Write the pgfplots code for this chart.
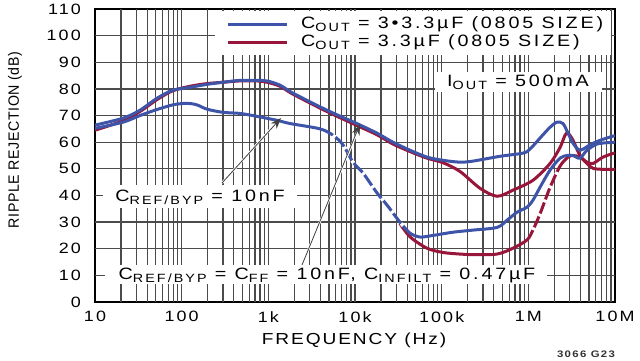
\documentclass[border=0pt]{standalone}
\usepackage{pgfplots}
\pgfplotsset{compat=1.18}
\usetikzlibrary{arrows.meta}
\usepackage{fontspec}
\setmainfont{Liberation Sans}
\newfontfamily\wide[FakeStretch=1.2,LetterSpace=17]{Liberation Sans}
\newfontfamily\xlab[FakeStretch=1.2,LetterSpace=12]{Liberation Sans}
\newfontfamily\tickfam[FakeStretch=1.2,LetterSpace=14]{Liberation Sans}
\newfontfamily\narrow[FakeStretch=0.95,LetterSpace=4]{Liberation Sans}
\definecolor{bluec}{RGB}{62,84,168}
\definecolor{redc}{RGB}{152,22,58}
\definecolor{gridc}{RGB}{75,75,75}
\newcommand{\tickfont}{\tickfam\fontsize{15}{15}\selectfont}
\newcommand{\txtf}{\wide\fontsize{16.5}{17}\selectfont}
\newcommand{\sub}[1]{\raisebox{-0.35ex}{\fontsize{12}{12}\selectfont #1}}
\begin{document}
\begin{tikzpicture}
\begin{axis}[
  at={(0,0)}, anchor=south west,
  scale only axis, width=520bp, height=293bp,
  xmode=log, log basis x=10,
  xmin=10, xmax=1e7, ymin=0, ymax=110,
  ytick={0,10,...,110},
  yticklabels={0,10,20,30,40,50,60,70,80,90,100,110},
  xtick={10,100,1000,10000,100000,1000000,10000000},
  xticklabels={10,100,1k,10k,100k,1M,10M},
  tick style={gridc, line width=1.2bp},
  axis line style={line width=1.8bp, black},
  ticklabel style={font=\tickfont},
  yticklabel style={anchor=east, inner sep=0pt, xshift=-14bp},
  xticklabel style={anchor=north, inner sep=0pt, yshift=-9bp},
  every axis plot/.append style={line width=3bp, smooth, no markers},
]
% grid
\pgfplotsinvokeforeach{20,30,40,50,60,70,80,90,100,200,300,400,500,600,700,800,900,1000,2000,3000,4000,5000,6000,7000,8000,9000,10000,20000,30000,40000,50000,60000,70000,80000,90000,100000,200000,300000,400000,500000,600000,700000,800000,900000,1000000,2000000,3000000,4000000,5000000,6000000,7000000,8000000,9000000}{
  \draw[gridc, line width=1.2bp] (axis cs:#1,0) -- (axis cs:#1,110);
}
\pgfplotsinvokeforeach{10,20,30,40,50,60,70,80,90,100}{
  \draw[gridc, line width=1.2bp] (axis cs:10,#1) -- (axis cs:10000000,#1);
}
% lower red
\addplot[redc] coordinates {
(33000,29.5) (43000,24.5) (67700,20.2) (103500,18.6) (163000,18) (230000,17.8) (435000,18) (665000,20.2) (966000,23.3) (1130000,27) (1360000,33) (1780000,43) (2320000,51) (2870000,54.4) (3280000,55) (3940000,54.4) (4750000,52.5) (5570000,52) (7270000,54.4) (10000000,56)};
% upper red
\addplot[redc] coordinates {
(10,64.5) (21,68) (33,71.5) (52,76) (79,79.3) (125,81) (196,82) (300,82.5) (471,83) (740,83) (965,82.5) (1365,81) (1930,78) (4750,71.5) (10500,66.3) (17900,62.8) (27400,59.3) (43000,56.5) (67700,54) (103500,52.3) (163000,49) (277000,42.7) (435000,39.7) (665000,42) (1130000,45.7) (1780000,52) (2320000,58) (2650000,62.6) (2870000,63.4) (3280000,60.7) (3940000,55) (4750000,52) (5570000,50.2) (7270000,49.8) (10000000,49.8)};
% lower blue
\addplot[bluec] coordinates {
(10,65.2) (21,67.5) (33,70) (49,72) (79,74) (115,74.6) (150,74) (196,72.4) (300,71.2) (471,70.8) (740,69.7) (1260,68.2) (1780,67) (3950,65) (5570,62.6) (7270,59) (9480,52.5) (12400,48.4) (17900,41) (23400,36.4) (33000,30) (43000,25.9) (56200,24.4) (79400,25) (135000,26.2) (230000,27) (435000,28) (568000,30.7) (740000,33.7) (966000,35.6) (1130000,38.2) (1360000,43) (1780000,49.5) (2320000,54) (2790000,55) (3280000,55) (3940000,54) (4750000,57) (6190000,59.3) (8080000,59.8) (10000000,60)};
% upper blue
\addplot[bluec] coordinates {
(10,66.4) (21,69) (33,72) (52,76.5) (79,79.5) (125,80.6) (196,81.7) (300,82.5) (471,83.2) (740,83.2) (965,83) (1365,81.4) (1930,78.4) (4750,72) (10500,67) (17900,63.4) (27400,60) (43000,57) (67700,54.4) (103500,53.2) (163000,52.5) (230000,52.9) (471000,54.7) (867000,55.9) (1045000,57.4) (1360000,61.5) (1780000,65.6) (2140000,67.5) (2510000,67) (2870000,63.4) (3280000,59.6) (3940000,57) (5140000,59) (6710000,60.7) (10000000,62.5)};
% gaps in dashed portions
\addplot[white, line width=3.6bp, dash pattern=on 3bp off 13bp] coordinates {
(5570,62.6) (7270,59) (9480,52.5) (12400,48.4) (17900,41) (23400,36.4) (33000,30) (43000,25.9)};
\addplot[white, line width=3.6bp, dash pattern=on 3bp off 12bp] coordinates {
(1130000,27) (1360000,33) (1780000,43) (2320000,51)};
\end{axis}
\begin{scope}[x=1bp, y=-1bp, shift={(-95bp,302bp)}]
\path[use as bounding box] (0,0) rectangle (640,360);
% legend
\fill[white] (215,11) rectangle (611,55);
\draw[bluec, line width=3bp] (228,24) -- (287,24);
\draw[redc, line width=3bp] (228,42) -- (287,42);
\node[anchor=west, inner sep=0pt, font=\txtf] at (301,24) {C\sub{OUT} = 3•3.3µF (0805 SIZE)};
\node[anchor=west, inner sep=0pt, font=\txtf] at (301,42) {C\sub{OUT} = 3.3µF (0805 SIZE)};
% IOUT box
\fill[white] (435,72) rectangle (602,92);
\node[inner sep=0pt, font=\txtf] at (518,82) {I\sub{OUT} = 500mA};
% box1
\fill[white] (103,185) rectangle (297,208);
\node[inner sep=0pt, font=\txtf] at (200,197) {C\sub{REF/BYP} = 10nF};
% box2
\fill[white] (105,265) rectangle (547,284);
\node[inner sep=0pt, font=\txtf] at (327,275) {C\sub{REF/BYP} = C\sub{FF} = 10nF, C\sub{INFILT} = 0.47µF};
% arrows
\draw[white, line width=2.2bp] (222,183) -- (276,123);
\draw[black!75, line width=0.8bp, -{Stealth[length=11bp,width=8bp]}] (222,183) -- (281,118);
\draw[white, line width=2.2bp] (302,265) -- (358,130);
\draw[black!75, line width=0.8bp, -{Stealth[length=11bp,width=8bp]}] (302,265) -- (360,124);
% labels
\node[rotate=90, inner sep=0pt, font=\narrow\fontsize{15}{15}\selectfont] at (15,140) {RIPPLE REJECTION (dB)};
\node[inner sep=0pt, font=\xlab\fontsize{16}{16}\selectfont] at (354,340) {FREQUENCY (Hz)};
\node[inner sep=0pt, font=\tickfam\fontsize{9.5}{10}\bfseries\selectfont, black!80] at (586,354) {3066 G23};
\end{scope}
\end{tikzpicture}
\end{document}
